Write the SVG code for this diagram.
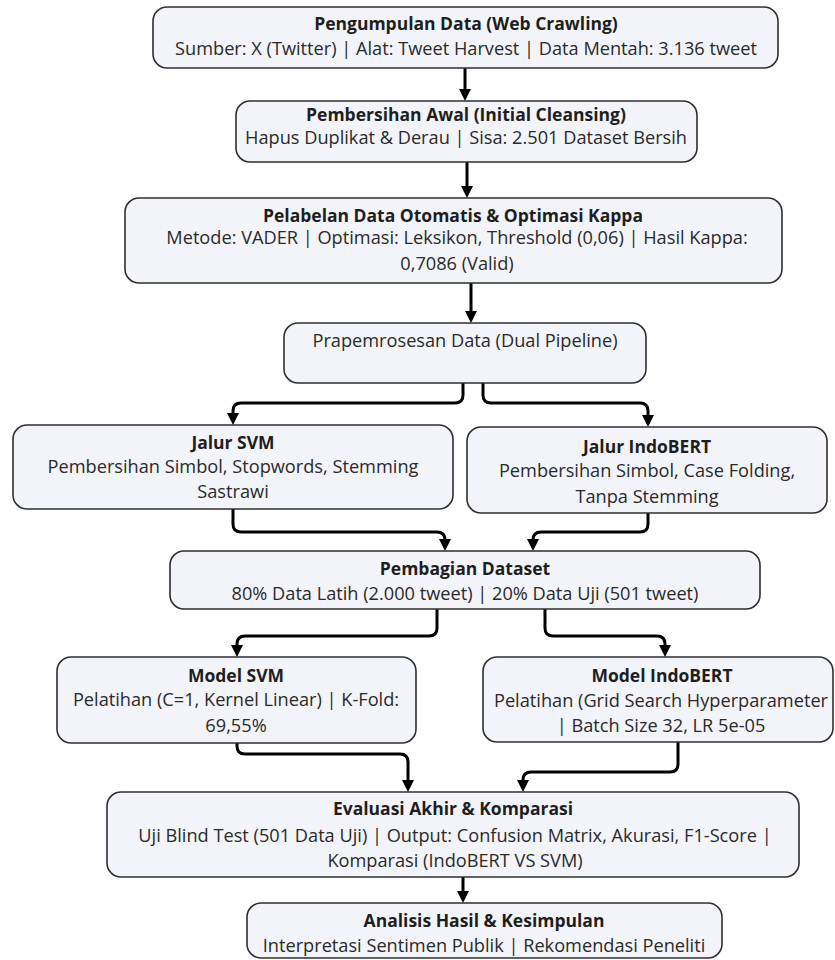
<svg xmlns="http://www.w3.org/2000/svg" width="835" height="960" viewBox="0 0 835 960">
<style>
.box{fill:#f3f4f9;stroke:#2f2f2f;stroke-width:1.6}
.t{font-family:"Open Sans","Noto Sans","Liberation Sans",sans-serif;font-weight:700;font-size:17.5px;fill:#1e1e1e;text-anchor:middle}
.b{font-family:"Open Sans","Noto Sans","Liberation Sans",sans-serif;font-size:18.2px;fill:#2a2a2a;text-anchor:middle}
.c{fill:none;stroke:#000;stroke-width:3;marker-end:url(#ah)}
</style>
<defs>
<marker id="ah" viewBox="0 0 12 12" refX="6" refY="6" markerWidth="12" markerHeight="12" markerUnits="userSpaceOnUse" orient="auto">
<path d="M0,0 L12,6 L0,12 z" fill="#000"/>
</marker>
</defs>
<rect width="835" height="960" fill="#fff"/>
<g id="connectors">
<path class="c" d="M465,68 V95"/>
<path class="c" d="M467,162 V192"/>
<path class="c" d="M471,283 V317"/>
<path class="c" d="M463,383 V395 Q463,403 455,403 H241 Q233,403 233,411 V419"/>
<path class="c" d="M483,383 V395 Q483,403 491,403 H640 Q648,403 648,411 V421"/>
<path class="c" d="M233,509 V524 Q233,532 241,532 H437 Q445,532 445,540 V545"/>
<path class="c" d="M648,513 V524 Q648,532 640,532 H541 Q533,532 533,540 V545"/>
<path class="c" d="M437,609 V628 Q437,636 429,636 H245 Q237,636 237,644 V651"/>
<path class="c" d="M545,609 V628 Q545,636 553,636 H657 Q665,636 665,644 V651"/>
<path class="c" d="M237,743 V746 Q237,754 245,754 H400 Q408,754 408,762 V786"/>
<path class="c" d="M678,742 V764 Q678,772 670,772 H531 Q523,772 523,780 V786"/>
<path class="c" d="M463,877 V897"/>
</g>
<g id="n1">
<rect class="box" x="153" y="7" width="625" height="61" rx="14"/>
<text class="t" x="466" y="30">Pengumpulan Data (Web Crawling)</text>
<text class="b" x="466" y="55">Sumber: X (Twitter) | Alat: Tweet Harvest | Data Mentah: 3.136 tweet</text>
</g>
<g id="n2">
<rect class="box" x="236" y="101" width="461" height="61" rx="14"/>
<text class="t" x="466" y="121">Pembersihan Awal (Initial Cleansing)</text>
<text class="b" x="466" y="144">Hapus Duplikat &amp; Derau | Sisa: 2.501 Dataset Bersih</text>
</g>
<g id="n3">
<rect class="box" x="125" y="198" width="657" height="85" rx="14"/>
<text class="t" x="453" y="222">Pelabelan Data Otomatis &amp; Optimasi Kappa</text>
<text class="b" x="457" y="244">Metode: VADER | Optimasi: Leksikon, Threshold (0,06) | Hasil Kappa:</text>
<text class="b" x="457" y="270">0,7086 (Valid)</text>
</g>
<g id="n4">
<rect class="box" x="284" y="323" width="362" height="60" rx="14"/>
<text class="b" x="465" y="347">Prapemrosesan Data (Dual Pipeline)</text>
</g>
<g id="n5">
<rect class="box" x="13" y="425" width="440" height="84" rx="14"/>
<text class="t" x="233" y="449">Jalur SVM</text>
<text class="b" x="233" y="473">Pembersihan Simbol, Stopwords, Stemming</text>
<text class="b" x="233" y="498">Sastrawi</text>
</g>
<g id="n6">
<rect class="box" x="467" y="427" width="360" height="86" rx="14"/>
<text class="t" x="647" y="453">Jalur IndoBERT</text>
<text class="b" x="647" y="477">Pembersihan Simbol, Case Folding,</text>
<text class="b" x="647" y="503">Tanpa Stemming</text>
</g>
<g id="n7">
<rect class="box" x="170" y="551" width="590" height="58" rx="14"/>
<text class="t" x="465" y="575">Pembagian Dataset</text>
<text class="b" x="465" y="600">80% Data Latih (2.000 tweet) | 20% Data Uji (501 tweet)</text>
</g>
<g id="n8">
<rect class="box" x="57" y="657" width="359" height="86" rx="14"/>
<text class="t" x="236" y="682">Model SVM</text>
<text class="b" x="236" y="706">Pelatihan (C=1, Kernel Linear) | K-Fold:</text>
<text class="b" x="236" y="732">69,55%</text>
</g>
<g id="n9">
<rect class="box" x="483" y="657" width="350" height="85" rx="14"/>
<text class="t" x="662" y="682">Model IndoBERT</text>
<text class="b" x="661" y="707">Pelatihan (Grid Search Hyperparameter</text>
<text class="b" x="661" y="732">| Batch Size 32, LR 5e-05</text>
</g>
<g id="n10">
<rect class="box" x="107" y="792" width="692" height="85" rx="14"/>
<text class="t" x="453" y="815">Evaluasi Akhir &amp; Komparasi</text>
<text class="b" x="455" y="842">Uji Blind Test (501 Data Uji) | Output: Confusion Matrix, Akurasi, F1-Score |</text>
<text class="b" x="455" y="867">Komparasi (IndoBERT VS SVM)</text>
</g>
<g id="n11">
<rect class="box" x="247" y="903" width="475" height="55" rx="14"/>
<text class="t" x="484" y="927">Analisis Hasil &amp; Kesimpulan</text>
<text class="b" x="484" y="952">Interpretasi Sentimen Publik | Rekomendasi Peneliti</text>
</g>
</svg>
